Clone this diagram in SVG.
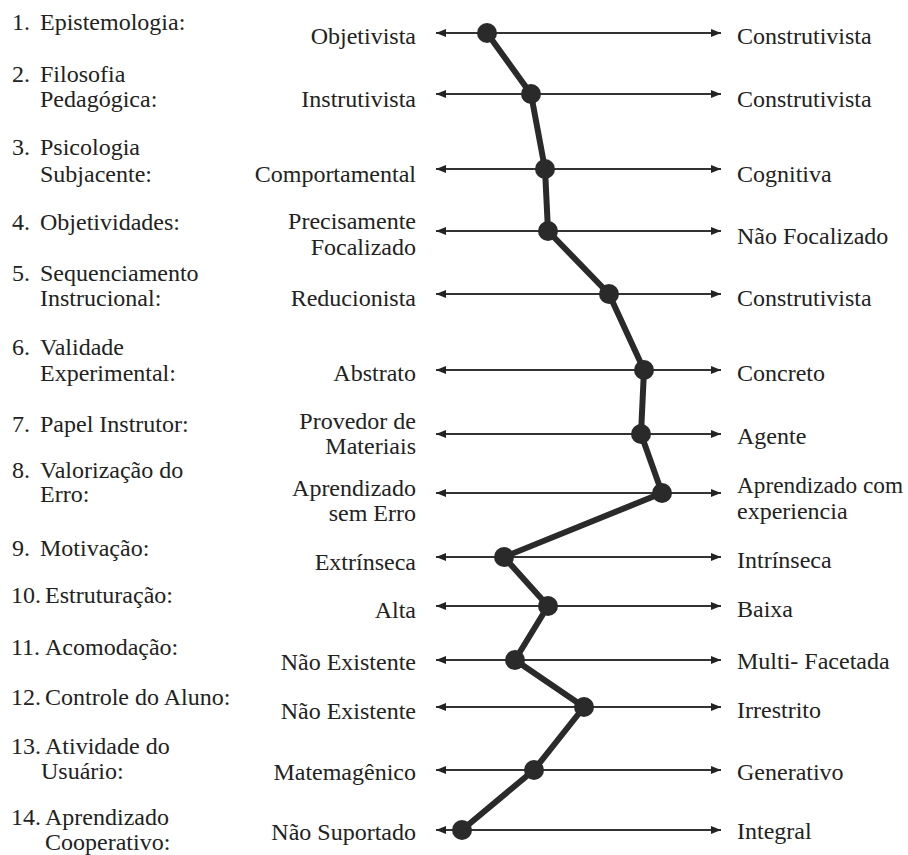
<svg xmlns="http://www.w3.org/2000/svg" width="908" height="855" viewBox="0 0 908 855">
<style>
text{font-family:"Liberation Serif","Times New Roman",serif;font-size:24px;fill:#222}
.m{text-anchor:end}
.ax{stroke:#333;stroke-width:2;fill:none;marker-start:url(#al);marker-end:url(#ar)}
.dot{fill:#2a2a2a}
.prof{stroke:#2a2a2a;stroke-width:6;fill:none;stroke-linejoin:round}
</style>
<defs>
<marker id="ar" viewBox="0 0 10 8" refX="10" refY="4" markerWidth="5" markerHeight="4" orient="auto" markerUnits="strokeWidth"><path d="M0,0 L10,4 L0,8 Z" fill="#222"/></marker>
<marker id="al" viewBox="0 0 10 8" refX="0" refY="4" markerWidth="5" markerHeight="4" orient="auto" markerUnits="strokeWidth"><path d="M10,0 L0,4 L10,8 Z" fill="#222"/></marker>
</defs>
<rect width="908" height="855" fill="#fff"/>
<g id="row1"><text x="12" y="30">1.</text><text x="40" y="30">Epistemologia:</text><text class="m" x="416" y="44">Objetivista</text><line class="ax" x1="436" y1="33" x2="721" y2="33"/><text x="737" y="44">Construtivista</text></g>
<g id="row2"><text x="12" y="82">2.</text><text x="40" y="82">Filosofia</text><text x="40" y="107">Pedagógica:</text><text class="m" x="416" y="107">Instrutivista</text><line class="ax" x1="436" y1="94" x2="721" y2="94"/><text x="737" y="107">Construtivista</text></g>
<g id="row3"><text x="12" y="155">3.</text><text x="40" y="155">Psicologia</text><text x="40" y="182">Subjacente:</text><text class="m" x="416" y="182">Comportamental</text><line class="ax" x1="436" y1="169" x2="721" y2="169"/><text x="737" y="182">Cognitiva</text></g>
<g id="row4"><text x="12" y="230">4.</text><text x="40" y="230">Objetividades:</text><text class="m" x="416" y="229">Precisamente</text><text class="m" x="416" y="255">Focalizado</text><line class="ax" x1="436" y1="231" x2="721" y2="231"/><text x="737" y="244">Não Focalizado</text></g>
<g id="row5"><text x="12" y="281">5.</text><text x="40" y="281">Sequenciamento</text><text x="40" y="306">Instrucional:</text><text class="m" x="416" y="306">Reducionista</text><line class="ax" x1="436" y1="294" x2="721" y2="294"/><text x="737" y="306">Construtivista</text></g>
<g id="row6"><text x="12" y="355">6.</text><text x="40" y="355">Validade</text><text x="40" y="381">Experimental:</text><text class="m" x="416" y="381">Abstrato</text><line class="ax" x1="436" y1="370" x2="721" y2="370"/><text x="737" y="381">Concreto</text></g>
<g id="row7"><text x="12" y="432">7.</text><text x="40" y="432">Papel Instrutor:</text><text class="m" x="416" y="429">Provedor de</text><text class="m" x="416" y="454">Materiais</text><line class="ax" x1="436" y1="434" x2="721" y2="434"/><text x="737" y="444">Agente</text></g>
<g id="row8"><text x="12" y="478">8.</text><text x="40" y="478">Valorização do</text><text x="40" y="502">Erro:</text><text class="m" x="416" y="496">Aprendizado</text><text class="m" x="416" y="521">sem Erro</text><line class="ax" x1="436" y1="493" x2="721" y2="493"/><text x="737" y="493" textLength="166" lengthAdjust="spacingAndGlyphs">Aprendizado com</text><text x="737" y="519">experiencia</text></g>
<g id="row9"><text x="12" y="556">9.</text><text x="40" y="556">Motivação:</text><text class="m" x="416" y="570">Extrínseca</text><line class="ax" x1="436" y1="557" x2="721" y2="557"/><text x="737" y="568">Intrínseca</text></g>
<g id="row10"><text x="11" y="603">10.</text><text x="45" y="603">Estruturação:</text><text class="m" x="416" y="618">Alta</text><line class="ax" x1="436" y1="606" x2="721" y2="606"/><text x="737" y="617">Baixa</text></g>
<g id="row11"><text x="11" y="655">11.</text><text x="45" y="655">Acomodação:</text><text class="m" x="416" y="670">Não Existente</text><line class="ax" x1="436" y1="660" x2="721" y2="660"/><text x="737" y="669">Multi- Facetada</text></g>
<g id="row12"><text x="11" y="705">12.</text><text x="45" y="705">Controle do Aluno:</text><text class="m" x="416" y="719">Não Existente</text><line class="ax" x1="436" y1="707" x2="721" y2="707"/><text x="737" y="718">Irrestrito</text></g>
<g id="row13"><text x="11" y="754">13.</text><text x="45" y="754">Atividade do</text><text x="41" y="779">Usuário:</text><text class="m" x="416" y="780">Matemagênico</text><line class="ax" x1="436" y1="770" x2="721" y2="770"/><text x="737" y="780">Generativo</text></g>
<g id="row14"><text x="11" y="825">14.</text><text x="45" y="825">Aprendizado</text><text x="45" y="850">Cooperativo:</text><text class="m" x="416" y="840">Não Suportado</text><line class="ax" x1="436" y1="830" x2="721" y2="830"/><text x="737" y="839">Integral</text></g>
<g id="connectors">
<polyline class="prof" points="487,33 531,94 545,169 548,231 609,294 644,370 641,434 662,493 504,557 548,606 515,660 584,707 534,770 462,830"/>
</g>
<g id="points">
<circle class="dot" cx="487" cy="33" r="10"/>
<circle class="dot" cx="531" cy="94" r="10"/>
<circle class="dot" cx="545" cy="169" r="10"/>
<circle class="dot" cx="548" cy="231" r="10"/>
<circle class="dot" cx="609" cy="294" r="10"/>
<circle class="dot" cx="644" cy="370" r="10"/>
<circle class="dot" cx="641" cy="434" r="10"/>
<circle class="dot" cx="662" cy="493" r="10"/>
<circle class="dot" cx="504" cy="557" r="10"/>
<circle class="dot" cx="548" cy="606" r="10"/>
<circle class="dot" cx="515" cy="660" r="10"/>
<circle class="dot" cx="584" cy="707" r="10"/>
<circle class="dot" cx="534" cy="770" r="10"/>
<circle class="dot" cx="462" cy="830" r="10"/>
</g>
</svg>
